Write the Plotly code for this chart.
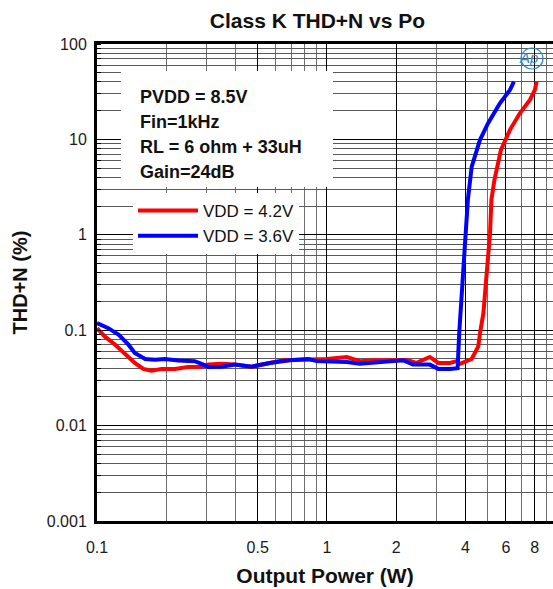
import plotly.graph_objects as go

# ---- data ----
red_name = "VDD = 4.2V"
red_x = [0.1, 0.108, 0.12, 0.132, 0.146, 0.159, 0.173, 0.191, 0.218, 0.249, 0.285, 0.305,
         0.348, 0.398, 0.47, 0.646, 0.85, 1.0, 1.22, 1.39, 1.64, 2.07, 2.25, 2.45, 2.80,
         3.05, 3.43, 3.66, 3.78, 4.26, 4.55, 4.63, 4.79, 4.87, 4.98, 5.12, 5.19, 5.35,
         5.71, 6.25, 6.90, 7.63, 8.02, 8.16]
red_y = [0.105, 0.086, 0.0705, 0.0577, 0.0454, 0.0393, 0.0377, 0.0393, 0.0393, 0.0412, 0.0415, 0.0436,
         0.0444, 0.0436, 0.0415, 0.0483, 0.0499, 0.0499, 0.0524, 0.0474, 0.0483, 0.049, 0.0483, 0.0454, 0.0524,
         0.0454, 0.0454, 0.0474, 0.0444, 0.0499, 0.0676, 0.0933, 0.151, 0.245, 0.466, 1.04, 2.33, 3.77,
         7.76, 12.6, 18.8, 25.9, 33.0, 40.3]

blue_name = "VDD = 3.6V"
blue_x = [0.1, 0.112, 0.124, 0.137, 0.146, 0.162, 0.179, 0.197, 0.226, 0.266, 0.285, 0.305,
          0.348, 0.398, 0.47, 0.565, 0.69, 0.83, 0.902, 1.03, 1.22, 1.39, 1.64, 1.94, 2.15,
          2.37, 2.80, 3.05, 3.43, 3.60, 3.70, 3.76, 3.85, 3.92, 4.01, 4.10, 4.26, 4.63,
          5.02, 5.65, 6.25, 6.50]
blue_y = [0.119, 0.105, 0.0898, 0.0705, 0.0577, 0.0499, 0.049, 0.0499, 0.048, 0.0474, 0.0444, 0.0412,
          0.0415, 0.0436, 0.0415, 0.0454, 0.0483, 0.0499, 0.0474, 0.0474, 0.0463, 0.0444, 0.0463, 0.0474, 0.0483,
          0.0436, 0.0436, 0.0393, 0.0393, 0.0402, 0.040, 0.0933, 0.208, 0.466, 1.04, 2.33, 5.19, 9.89,
          14.8, 23.9, 33.0, 40.3]

x_tickvals = [0.1, 0.5, 1, 2, 4, 6, 8]
x_ticktext = ["0.1", "0.5", "1", "2", "4", "6", "8"]
x_minorvals = [0.2, 0.3, 0.4, 0.6, 0.7, 0.8, 0.9, 3, 5, 7, 9]
y_tickvals = [0.001, 0.01, 0.1, 1, 10, 100]
y_ticktext = ["0.001", "0.01", "0.1", "1", "10", "100"]

info_lines = ["PVDD = 8.5V", "Fin=1kHz", "RL = 6 ohm + 33uH", "Gain=24dB"]

FONT = "Liberation Sans, Arial, sans-serif"

fig = go.Figure()
fig.add_trace(go.Scatter(x=red_x, y=red_y, mode="lines", name=red_name,
                         line=dict(color="#ff0000", width=4)))
fig.add_trace(go.Scatter(x=blue_x, y=blue_y, mode="lines", name=blue_name,
                         line=dict(color="#0000ff", width=4)))

W, H = 553, 589
L, R, T, B = 97, 0, 44, 68
pw, ph = W - L - R, H - T - B

def px(xp):
    return (xp - L) / pw

def py(yp):
    return (H - B - yp) / ph

# white info box
fig.add_shape(type="rect", xref="paper", yref="paper",
              x0=px(121), x1=px(333), y0=py(187), y1=py(71),
              fillcolor="white", line=dict(width=0), layer="above")
for i, t in enumerate(info_lines):
    fig.add_annotation(xref="paper", yref="paper", x=px(138), y=py(97 + 25 * i),
                       xanchor="left", yanchor="middle", text="<b>%s</b>" % t,
                       showarrow=False, font=dict(family=FONT, size=18, color="#111111"))

# "Ap" logo
fig.add_annotation(xref="paper", yref="paper", x=px(540), y=py(47), text="<i>Ap</i>",
                   showarrow=False, font=dict(family=FONT, size=15, color="#2a8cc4"))
fig.add_shape(type="circle", xref="paper", yref="paper",
              x0=px(521), x1=px(543), y0=py(69), y1=py(48),
              line=dict(color="#2a8cc4", width=1.2), layer="above")

fig.update_layout(
    width=W, height=H,
    margin=dict(l=L, r=R, t=T, b=B),
    paper_bgcolor="white", plot_bgcolor="white",
    font=dict(family=FONT, color="#1a1a1a"),
    title=dict(text="<b>Class K THD+N vs Po</b>", x=px(317.5), xref="paper", xanchor="center",
               y=1 - 21 / H, yanchor="middle", font=dict(size=21, color="#111111")),
    legend=dict(x=px(133), y=py(193), xanchor="left", yanchor="top",
                bgcolor="white", borderwidth=0, font=dict(family=FONT, size=17, color="#111111"),
                itemwidth=60, tracegroupgap=0),
    showlegend=True,
)

fig.update_xaxes(
    type="log", range=[-1, 0.983],
    tickmode="array", tickvals=x_tickvals, ticktext=x_ticktext,
    tickfont=dict(size=16), ticks="", ticklabelstandoff=10,
    showgrid=True, gridcolor="#000000", gridwidth=1,
    minor=dict(tickmode="array", tickvals=x_minorvals, showgrid=True,
               gridcolor="#6e6e6e", gridwidth=1, ticks=""),
    showline=True, linecolor="black", linewidth=3, mirror=True,
    zeroline=False,
    title=dict(text="<b>Output Power (W)</b>", font=dict(size=21, color="#111111"), standoff=14),
)
fig.update_yaxes(
    type="log", range=[-3, 2],
    tickmode="array", tickvals=y_tickvals, ticktext=y_ticktext,
    tickfont=dict(size=16), ticks="", ticklabelstandoff=4,
    showgrid=True, gridcolor="#000000", gridwidth=1,
    minor=dict(dtick="D1", showgrid=True, gridcolor="#5a5a5a", gridwidth=1,
               ticks="inside", ticklen=4, tickcolor="black"),
    showline=True, linecolor="black", linewidth=3, mirror=False,
    zeroline=False,
    title=dict(text="<b>THD+N (%)</b>", font=dict(size=20, color="#111111"), standoff=14),
)

fig.write_html("out.html", config={"displayModeBar": False},
               post_script="document.body.style.margin='0';")
